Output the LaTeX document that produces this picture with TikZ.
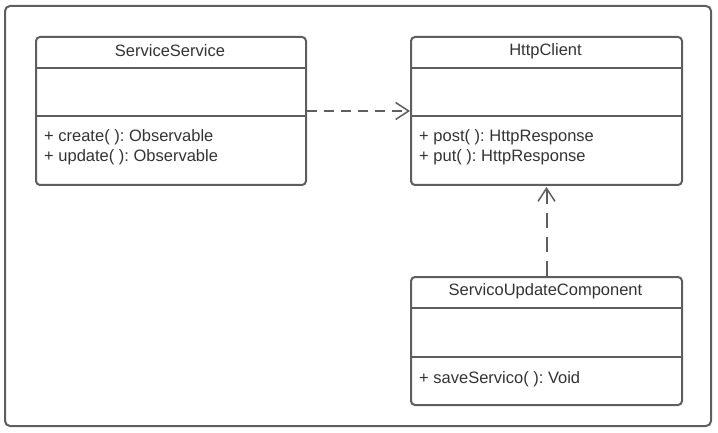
\documentclass[tikz,border=0pt]{standalone}
\usepackage{fontspec}
\setmainfont{Liberation Sans}
\usetikzlibrary{arrows.meta}
\frenchspacing
\definecolor{linec}{HTML}{5E5E5E}
\definecolor{textc}{HTML}{333333}
\tikzset{
  classbox/.style={draw=linec, line width=2pt, rounded corners=4pt, minimum width=270pt, inner sep=0pt, anchor=north west},
  sepline/.style={draw=linec, line width=2pt},
  lbl/.style={text=textc, font=\fontsize{16.5}{19}\selectfont\frenchspacing, inner sep=0pt},
  dep/.style={draw=linec, line width=2pt, dash pattern=on 10pt off 7pt, -{Straight Barb[length=13pt,width=17pt,line width=1.5pt]}},
  depv/.style={dep, dash pattern=on 15pt off 9pt},
}
\begin{document}
\begin{tikzpicture}[x=1pt,y=-1pt]
\useasboundingbox (0,0) rectangle (718,433);
\draw[draw=linec, line width=2pt, rounded corners=5pt] (5,6) rectangle (711,426);
% ServiceService
\node[classbox, minimum height=148pt] (ss) at (35,36) {};
\draw[sepline] (35,68) -- (305,68);
\draw[sepline] (35,116) -- (305,116);
\node[lbl] (ssn) at (170,51) {ServiceService};
\node[lbl, anchor=west] (ssm1) at (44,137) {+ create( ): Observable};
\node[lbl, anchor=west] (ssm2) at (44,157) {+ update( ): Observable};
% HttpClient
\node[classbox, minimum height=148pt, minimum width=271pt] (hc) at (410,36) {};
\draw[sepline] (410,68) -- (681,68);
\draw[sepline] (410,116) -- (681,116);
\node[lbl] (hcn) at (545.5,51) {HttpClient};
\node[lbl, anchor=west] (hcm1) at (419,137) {+ post( ): HttpResponse};
\node[lbl, anchor=west] (hcm2) at (419,157) {+ put( ): HttpResponse};
% ServicoUpdateComponent
\node[classbox, minimum height=128pt, minimum width=271pt] (suc) at (410,276) {};
\draw[sepline] (410,308) -- (681,308);
\draw[sepline] (410,357) -- (681,357);
\node[lbl] (sucn) at (545.5,291) {ServicoUpdateComponent};
\node[lbl, anchor=west] (sucm1) at (419,379) {+ saveServico( ): Void};
% dependencies
\draw[dep] (ss.east) -- (hc.west);
\draw[depv] (suc.north) -- ([yshift=-1pt]hc.south);
\end{tikzpicture}
\end{document}
